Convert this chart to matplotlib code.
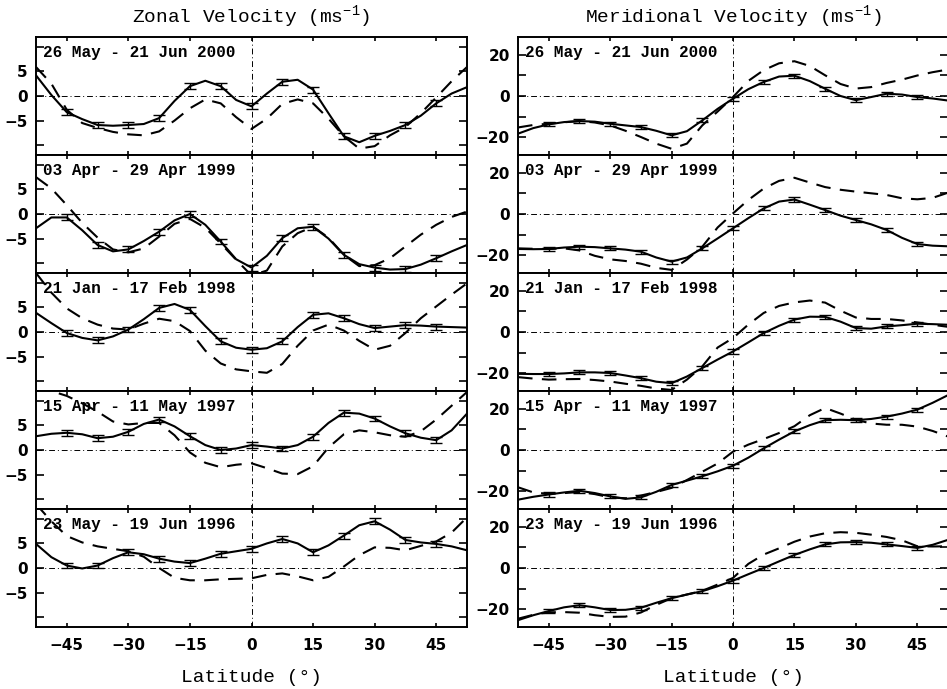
import numpy as np
import matplotlib
matplotlib.use("Agg")
import matplotlib.pyplot as plt

plt.rcParams['mathtext.fontset'] = 'custom'
plt.rcParams['mathtext.rm'] = 'Liberation Mono'

lat = np.arange(-52.5, 53, 3.75)

periods = ["26 May - 21 Jun 2000", "03 Apr - 29 Apr 1999", "21 Jan - 17 Feb 1998",
           "15 Apr - 11 May 1997", "23 May - 19 Jun 1996"]

# zonal velocity, solid (measured) and dashed (reference) curves, m/s
zonal_solid = [
    [4.2, 0.2, -3.3, -4.7, -5.9, -6.05, -5.9, -5.7, -4.5, -1.0, 2.0, 3.1, 2.0, -0.8, -2.1,
     0.5, 2.9, 3.3, 1.3, -3.5, -8.2, -9.4, -8.1, -7.1, -5.9, -4.0, -1.5, 0.5, 1.8],
    [-2.9, -0.7, -0.7, -3.3, -6.3, -7.6, -7.2, -5.5, -3.6, -1.3, 0.0, -2.2, -5.6, -9.2, -10.9,
     -8.5, -4.9, -2.9, -2.6, -5.0, -8.3, -10.2, -10.9, -11.3, -11.2, -10.3, -9.0, -7.6, -6.3],
    [3.9, 1.8, -0.2, -1.2, -1.7, -0.9, 0.5, 2.6, 4.9, 5.7, 4.5, 1.2, -1.9, -3.2, -3.6,
     -3.3, -1.9, 1.0, 3.5, 3.8, 2.8, 1.6, 0.8, 1.1, 1.4, 1.3, 1.1, 1.0, 0.9],
    [2.8, 3.3, 3.5, 3.2, 2.4, 2.7, 3.7, 5.3, 6.2, 4.8, 2.8, 1.0, 0.0, 0.3, 1.0,
     0.7, 0.3, 1.0, 2.7, 5.5, 7.6, 7.4, 6.4, 4.8, 3.4, 2.5, 2.0, 4.0, 7.4],
    [4.9, 2.2, 0.5, -0.1, 0.5, 2.0, 3.2, 2.8, 1.9, 1.3, 1.0, 1.9, 2.9, 3.4, 3.9,
     5.0, 5.9, 5.0, 3.2, 4.6, 6.6, 8.7, 9.5, 7.8, 5.7, 5.2, 4.9, 4.4, 3.6],
]
zonal_dashed = [
    [5.9, 2.5, -2.8, -5.5, -6.5, -7.3, -7.8, -8.0, -7.2, -5.0, -2.5, -0.7, -1.5, -4.3, -6.7,
     -4.6, -1.6, -0.7, -1.5, -4.6, -8.2, -10.7, -10.2, -8.0, -6.3, -3.5, -0.3, 3.0, 5.9],
    [7.5, 5.2, 1.8, -1.8, -4.8, -7.2, -7.8, -7.0, -4.6, -2.0, -1.0, -2.8, -6.0, -9.3, -12.5,
     -11.5, -6.6, -3.9, -2.6, -4.8, -8.3, -10.6, -10.4, -9.0, -6.6, -4.2, -2.2, -0.6, 0.5],
    [12.0, 8.0, 4.8, 2.8, 1.5, 0.7, 0.5, 1.7, 2.7, 2.2, 0.2, -3.8, -6.4, -7.6, -8.0,
     -8.3, -6.5, -2.8, 0.3, 1.5, 0.3, -1.8, -3.6, -2.8, -0.2, 2.8, 5.2, 7.6, 9.9],
    [13.0, 12.0, 11.0, 9.5, 7.8, 5.8, 5.2, 5.5, 5.5, 3.0, -0.5, -2.6, -3.5, -3.0, -2.7,
     -3.7, -4.8, -4.9, -3.3, 0.5, 3.2, 4.0, 3.6, 3.0, 2.7, 3.8, 6.2, 9.0, 11.8],
    [13.0, 9.5, 6.5, 5.2, 4.4, 3.9, 3.4, 2.3, 0.0, -2.0, -2.5, -2.5, -2.3, -2.2, -2.1,
     -1.4, -1.1, -1.7, -2.5, -1.8, 0.3, 2.6, 4.2, 4.1, 3.6, 4.5, 5.4, 7.2, 10.3],
]

# meridional velocity, m/s
merid_solid = [
    [-18.2, -15.5, -13.7, -12.6, -12.1, -12.4, -13.4, -14.2, -15.0, -16.8, -19.0, -17.0, -11.8, -6.2, -1.3,
     3.3, 6.8, 9.4, 9.8, 7.2, 3.5, 0.0, -2.0, -0.5, 1.1, 0.7, -0.5, -1.2, -2.2],
    [-16.9, -17.0, -16.9, -16.2, -15.8, -16.0, -16.6, -17.2, -18.2, -21.0, -23.0, -21.0, -16.6, -11.8, -6.9,
     -2.0, 2.7, 6.0, 7.0, 4.5, 1.9, -0.8, -2.9, -5.0, -7.7, -11.5, -14.5, -15.3, -15.6],
    [-20.2, -20.3, -20.3, -20.0, -19.5, -19.5, -19.8, -21.0, -22.3, -24.0, -24.7, -21.5, -17.4, -13.3, -9.4,
     -5.0, -0.5, 3.0, 6.0, 7.4, 7.3, 5.0, 1.9, 1.6, 2.7, 3.3, 4.0, 3.8, 3.5],
    [-24.0, -22.6, -21.5, -20.5, -19.7, -20.8, -22.4, -23.6, -22.9, -20.2, -16.9, -14.8, -12.7, -10.3, -7.6,
     -3.7, 0.8, 5.0, 9.0, 12.0, 14.4, 14.6, 14.4, 15.0, 16.1, 17.6, 19.5, 22.8, 26.5],
    [-25.2, -22.8, -20.8, -19.0, -18.0, -19.0, -20.3, -20.2, -19.2, -16.8, -14.6, -12.8, -11.2, -8.8, -6.1,
     -3.0, 0.0, 3.2, 6.3, 9.0, 11.4, 12.4, 12.5, 12.2, 11.4, 10.6, 9.7, 11.2, 13.6],
]
merid_dashed = [
    [-15.2, -14.0, -13.4, -12.7, -12.1, -12.8, -14.2, -16.8, -19.8, -23.0, -25.5, -23.0, -14.2, -7.5, -0.5,
     7.3, 12.5, 15.8, 16.8, 14.5, 10.0, 5.8, 3.6, 4.3, 6.3, 7.9, 9.9, 11.5, 12.8],
    [-16.6, -16.8, -16.9, -16.6, -17.6, -20.2, -21.9, -22.7, -24.0, -26.0, -27.0, -22.0, -15.8, -6.5, 0.3,
     6.8, 12.3, 16.0, 17.5, 15.2, 13.0, 11.7, 10.8, 10.0, 9.2, 7.6, 7.1, 7.8, 10.3],
    [-21.8, -22.5, -23.0, -22.8, -22.7, -23.2, -23.9, -25.0, -26.0, -27.3, -28.0, -23.0, -16.6, -7.5, -2.9,
     3.6, 9.2, 12.6, 14.3, 15.2, 14.2, 10.3, 7.0, 6.3, 6.3, 5.6, 4.6, 3.5, 2.5],
    [-18.0, -20.5, -21.2, -20.8, -20.3, -21.3, -22.9, -23.3, -22.0, -20.3, -18.3, -14.5, -10.5, -6.5, -0.8,
     2.6, 5.3, 8.2, 11.5, 16.8, 20.3, 17.6, 14.6, 12.8, 12.2, 12.2, 11.3, 9.2, 6.5],
    [-24.5, -22.6, -21.4, -21.3, -21.6, -22.8, -23.6, -23.5, -21.5, -17.8, -14.6, -12.8, -11.0, -8.0, -4.8,
     2.0, 6.5, 9.5, 12.7, 15.2, 16.8, 17.3, 17.0, 16.1, 15.0, 13.4, 10.5, 10.4, 10.5],
]

zonal_err = 0.6
merid_err = 1.0

xticks = [-45, -30, -15, 0, 15, 30, 45]
zonal_ticks = [-10, -5, 0, 5, 10]
zonal_labels = ["", "\u22125", "0", "5", ""]
merid_ticks = [-20, -10, 0, 10, 20]
merid_labels = ["\u221220", "", "0", "", "20"]

W, H = 947, 689
fig = plt.figure(figsize=(W / 100, H / 100), dpi=100)

mono = 'Liberation Mono'
tickfont = dict(family='DejaVu Sans', weight='bold', size=11)

# error bars every 7.5 deg between -45 and 45
ebar = (np.abs(lat) <= 45.01) & np.isclose(np.mod(lat, 7.5), 0)

cols = [
    (36, 467, zonal_solid, zonal_dashed, zonal_err, (-12, 12), zonal_ticks, zonal_labels),
    (518, 948, merid_solid, merid_dashed, merid_err, (-28.5, 28.5), merid_ticks, merid_labels),
]

top, ph = 37, 118
for x0, x1, sol, das, err, ylim, yt, ytl in cols:
    for i in range(5):
        ax = fig.add_axes([x0 / W, 1 - (top + ph * (i + 1)) / H, (x1 - x0) / W, ph / H])
        s = np.array(sol[i])
        d = np.array(das[i])
        ax.axhline(0, color='k', lw=0.7, ls=(0, (6, 3, 1, 3)))
        ax.axvline(0, color='k', lw=0.7, ls=(0, (6, 3, 1, 3)))
        ax.plot(lat, d, color='k', lw=1.5, ls=(0, (7, 4.5)))
        ax.plot(lat, s, color='k', lw=1.5)
        ax.errorbar(lat[ebar], s[ebar], yerr=err, fmt='none', ecolor='k',
                    elinewidth=1.0, capsize=4, capthick=1.0)
        ax.set_xlim(-52.5, 52.5)
        ax.set_ylim(*ylim)
        ax.set_yticks(yt)
        ax.set_yticklabels(ytl, fontdict=tickfont)
        ax.set_xticks(xticks)
        ax.tick_params(axis='y', direction='in', length=6, width=1.2, left=True, right=True, pad=6)
        ax.tick_params(axis='x', direction='in', length=3, width=1.2, top=True, bottom=True, pad=8)
        if i < 4:
            ax.set_xticklabels([])
        else:
            ax.set_xticklabels([str(t).replace('-', '\u2212') for t in xticks], fontdict=tickfont)
        for sp in ax.spines.values():
            sp.set_linewidth(1.4)
        ax.text(0.016, 0.865, periods[i], transform=ax.transAxes, ha='left', va='center',
                family=mono, weight='bold', fontsize=11.5)

fig.text(251 / W, 1 - 17 / H, 'Zonal Velocity (ms$^{\\mathrm{-1}}$)', ha='center', va='center',
         family=mono, fontsize=14)
fig.text(733 / W, 1 - 17 / H, 'Meridional Velocity (ms$^{\\mathrm{-1}}$)', ha='center', va='center',
         family=mono, fontsize=14)
fig.text(251 / W, 1 - 678 / H, 'Latitude (\u00b0)', ha='center', va='center', family=mono, fontsize=14)
fig.text(733 / W, 1 - 678 / H, 'Latitude (\u00b0)', ha='center', va='center', family=mono, fontsize=14)

fig.savefig('out.png', dpi=100)
